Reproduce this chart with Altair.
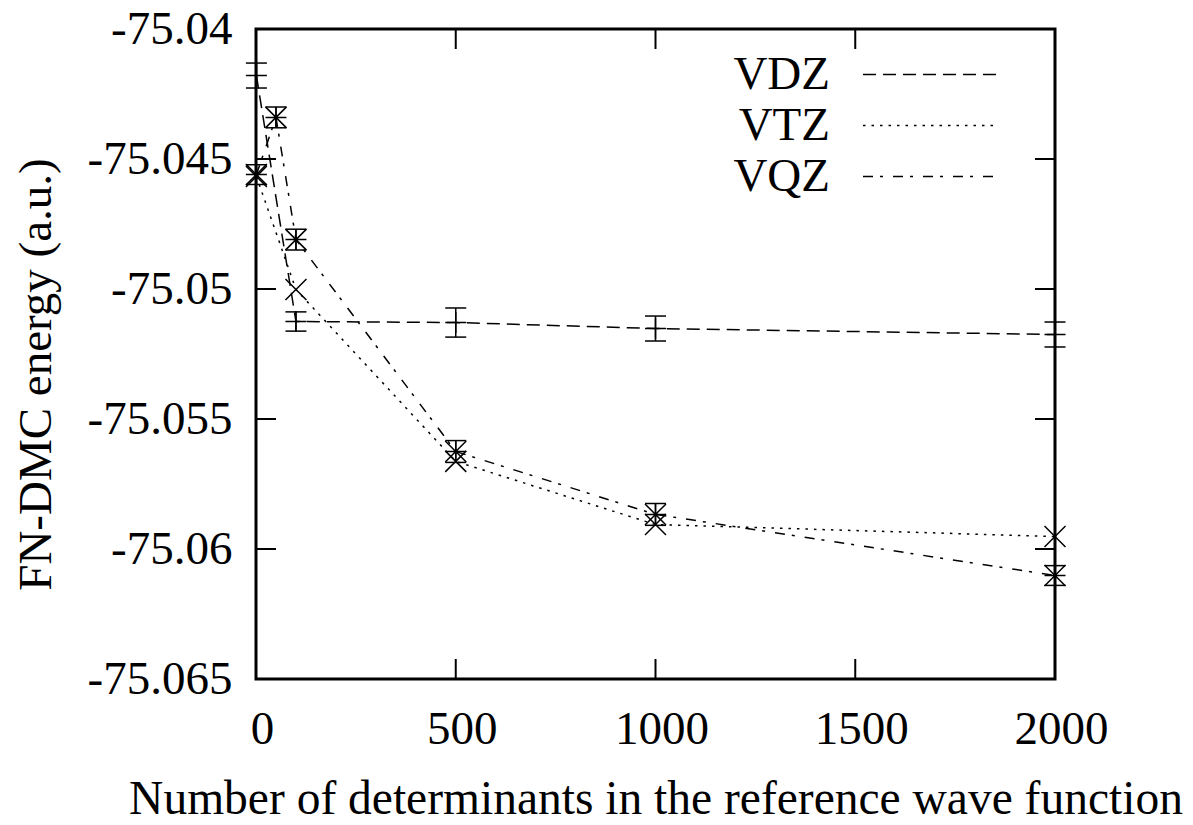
import altair as alt
import pandas as pd

FONT = "Liberation Serif"

series = ["VDZ", "VTZ", "VQZ"]

vdz_x = [1, 100, 500, 1000, 2000]
vdz_y = [-75.04179, -75.05125, -75.05129, -75.05152, -75.05175]
vdz_err = [0.00048, 0.00037, 0.00056, 0.00048, 0.00048]

vtz_x = [1, 100, 500, 1000, 2000]
vtz_y = [-75.04567, -75.05002, -75.05663, -75.05906, -75.05952]

vqz_x = [1, 50, 100, 500, 1000, 2000]
vqz_y = [-75.04560, -75.04340, -75.04810, -75.05625, -75.05867, -75.06102]
vqz_err = [0.00038, 0.00040, 0.00040, 0.00042, 0.00042, 0.00038]

x_ticks = [0, 500, 1000, 1500, 2000]
y_ticks = [-75.065, -75.06, -75.055, -75.05, -75.045, -75.04]

W, H = 799, 650
FS = 47

rows = []
for s, xs, ys in [("VDZ", vdz_x, vdz_y), ("VTZ", vtz_x, vtz_y), ("VQZ", vqz_x, vqz_y)]:
    for i, (a, b) in enumerate(zip(xs, ys)):
        rows.append({"series": s, "x": a, "y": b, "order": i})
df = pd.DataFrame(rows)

err_rows = []
for s, xs, ys, es in [("VDZ", vdz_x, vdz_y, vdz_err), ("VQZ", vqz_x, vqz_y, vqz_err)]:
    for a, b, e in zip(xs, ys, es):
        err_rows.append({"x": a, "y": b - e, "y2": b + e})
edf = pd.DataFrame(err_rows)
cap_df = pd.concat([edf[["x", "y"]], edf[["x", "y2"]].rename(columns={"y2": "y"})])

xt = pd.DataFrame({"x": x_ticks})
yt = pd.DataFrame({"y": y_ticks})

plus = "M-1,0L1,0M0,-1L0,1"
cross = "M-1,-1L1,1M-1,1L1,-1"
star = plus + cross
marker_of = {"VDZ": plus, "VTZ": cross, "VQZ": star}

xscale = alt.Scale(domain=[0, 2000], nice=False, zero=False)
yscale = alt.Scale(domain=[-75.065, -75.04], nice=False, zero=False)

xaxis = alt.Axis(values=x_ticks, format="d", ticks=False, tickSize=0, domain=False, grid=False,
                 labelFlush=False, labelOverlap=False,
                 labelFont=FONT, labelFontSize=FS, labelColor="black", labelPadding=27, labelOffset=6,
                 title="Number of determinants in the reference wave function",
                 titleFont=FONT, titleFontSize=47.5, titleFontWeight="normal", titleColor="black",
                 titlePadding=23)
yaxis = alt.Axis(values=y_ticks, ticks=False, tickSize=0, domain=False, grid=False,
                 labelFlush=False, labelOverlap=False,
                 labelExpr="'-' + format(abs(datum.value), '.3~f')",
                 labelFont=FONT, labelFontSize=FS, labelColor="black", labelPadding=24,
                 title="FN-DMC energy (a.u.)", titleFont=FONT, titleFontSize=FS,
                 titleFontWeight="normal", titleColor="black", titleAngle=270,
                 titleX=-206, titleY=345, titleBaseline="alphabetic")

X = alt.X("x:Q", scale=xscale, axis=xaxis)
Y = alt.Y("y:Q", scale=yscale, axis=yaxis)

dash_scale = alt.Scale(domain=series, range=[[13, 7], [2.5, 6], [10, 7, 3, 10]])

lines = alt.Chart(df).mark_line(color="black", strokeWidth=1.5).encode(
    x=X, y=Y,
    strokeDash=alt.StrokeDash("series:N", scale=dash_scale, sort=series,
                              legend=alt.Legend(orient="none", legendX=651, legendY=22, title=None,
                                                symbolType="M-3,0L3,0", symbolSize=45 * 45,
                                                symbolStrokeWidth=1.5, symbolStrokeColor="black",
                                                labelFont=FONT, labelFontSize=FS, labelColor="black",
                                                labelAlign="right", labelOffset={"expr": "-124"},
                                                rowPadding=3, padding=0)),
    order="order:Q",
)

point_layers = [
    alt.Chart(df).transform_filter(alt.datum.series == s).mark_point(
        shape=marker_of[s], color="black", strokeWidth=1.5, size=441, opacity=1
    ).encode(x=X, y=Y)
    for s in series
]

bars = alt.Chart(edf).mark_rule(color="black", strokeWidth=1.5).encode(
    x=X, y=Y, y2="y2:Q",
)

caps = alt.Chart(cap_df).mark_point(color="black", strokeWidth=1.5, size=441, opacity=1,
                                    shape="M-1,0L1,0").encode(x=X, y=Y)

tick_style = dict(color="black", strokeWidth=2)
left_ticks = alt.Chart(yt).mark_rule(**tick_style).encode(y=Y, x=alt.value(0), x2=alt.value(20))
right_ticks = alt.Chart(yt).mark_rule(**tick_style).encode(y=Y, x=alt.value(W - 20), x2=alt.value(W))
bottom_ticks = alt.Chart(xt).mark_rule(**tick_style).encode(x=X, y=alt.value(H - 20), y2=alt.value(H))
top_ticks = alt.Chart(xt).mark_rule(**tick_style).encode(x=X, y=alt.value(0), y2=alt.value(20))

chart = alt.layer(lines, bars, caps, *point_layers,
                  left_ticks, right_ticks, bottom_ticks, top_ticks).properties(
    width=W, height=H,
    autosize=alt.AutoSizeParams(type="none"),
    padding={"left": 248, "top": 21, "right": 129, "bottom": 138},
).configure(background="white").configure_view(stroke="black", strokeWidth=3)

chart.save("out.html", embed_options={"renderer": "svg", "actions": False})
